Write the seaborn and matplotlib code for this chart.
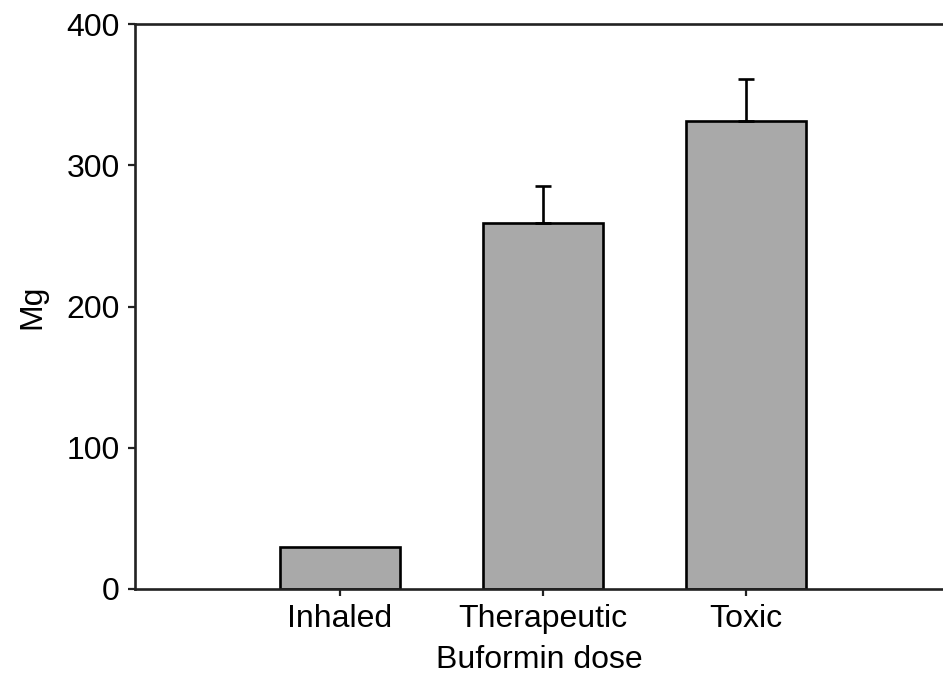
import pandas as pd
import matplotlib.pyplot as plt
import seaborn as sns

# values
doses = ['Inhaled', 'Therapeutic', 'Toxic']
mg = [30, 259, 331]
mg_err = [0, 26, 30]

df = pd.DataFrame({'Buformin dose': doses, 'Mg': mg, 'err': mg_err})

sns.set_style("ticks")
plt.rcParams['font.family'] = ['Liberation Sans', 'DejaVu Sans']

fig = plt.figure(figsize=(9.43, 6.88), dpi=100)
ax = fig.add_axes([135 / 943, 1 - 589 / 688, 1 - 135 / 943, (589 - 24) / 688])

sns.barplot(data=df, x='Buformin dose', y='Mg', color='#a9a9a9',
            edgecolor='black', linewidth=1.9, width=0.59, saturation=1,
            errorbar=None, ax=ax)

# upper-only error bars at the bar centres (none drawn for the inhaled dose)
centres = [p.get_x() + p.get_width() / 2 for p in ax.patches]
df['x'] = centres
has_err = df[df['err'] > 0]
ax.errorbar(has_err['x'], has_err['Mg'], yerr=[[0] * len(has_err), has_err['err']],
            fmt='none', ecolor='black', elinewidth=1.9, capsize=6, capthick=1.9)

ax.set_xlim(-1.01, 2.97)
ax.set_ylim(0, 400)
ax.set_yticks([0, 100, 200, 300, 400])

for side in ['left', 'bottom', 'top']:
    ax.spines[side].set_linewidth(1.9)
    ax.spines[side].set_color('#222222')
ax.spines['right'].set_visible(False)

ax.tick_params(axis='both', direction='out', length=5, width=1.6,
               colors='#222222', labelcolor='black', labelsize=23, pad=6)
ax.set_xlabel('Buformin dose', fontsize=23, labelpad=8, color='black')
ax.set_ylabel('Mg', fontsize=23, labelpad=14, color='black')

fig.savefig('out.png', dpi=100)
